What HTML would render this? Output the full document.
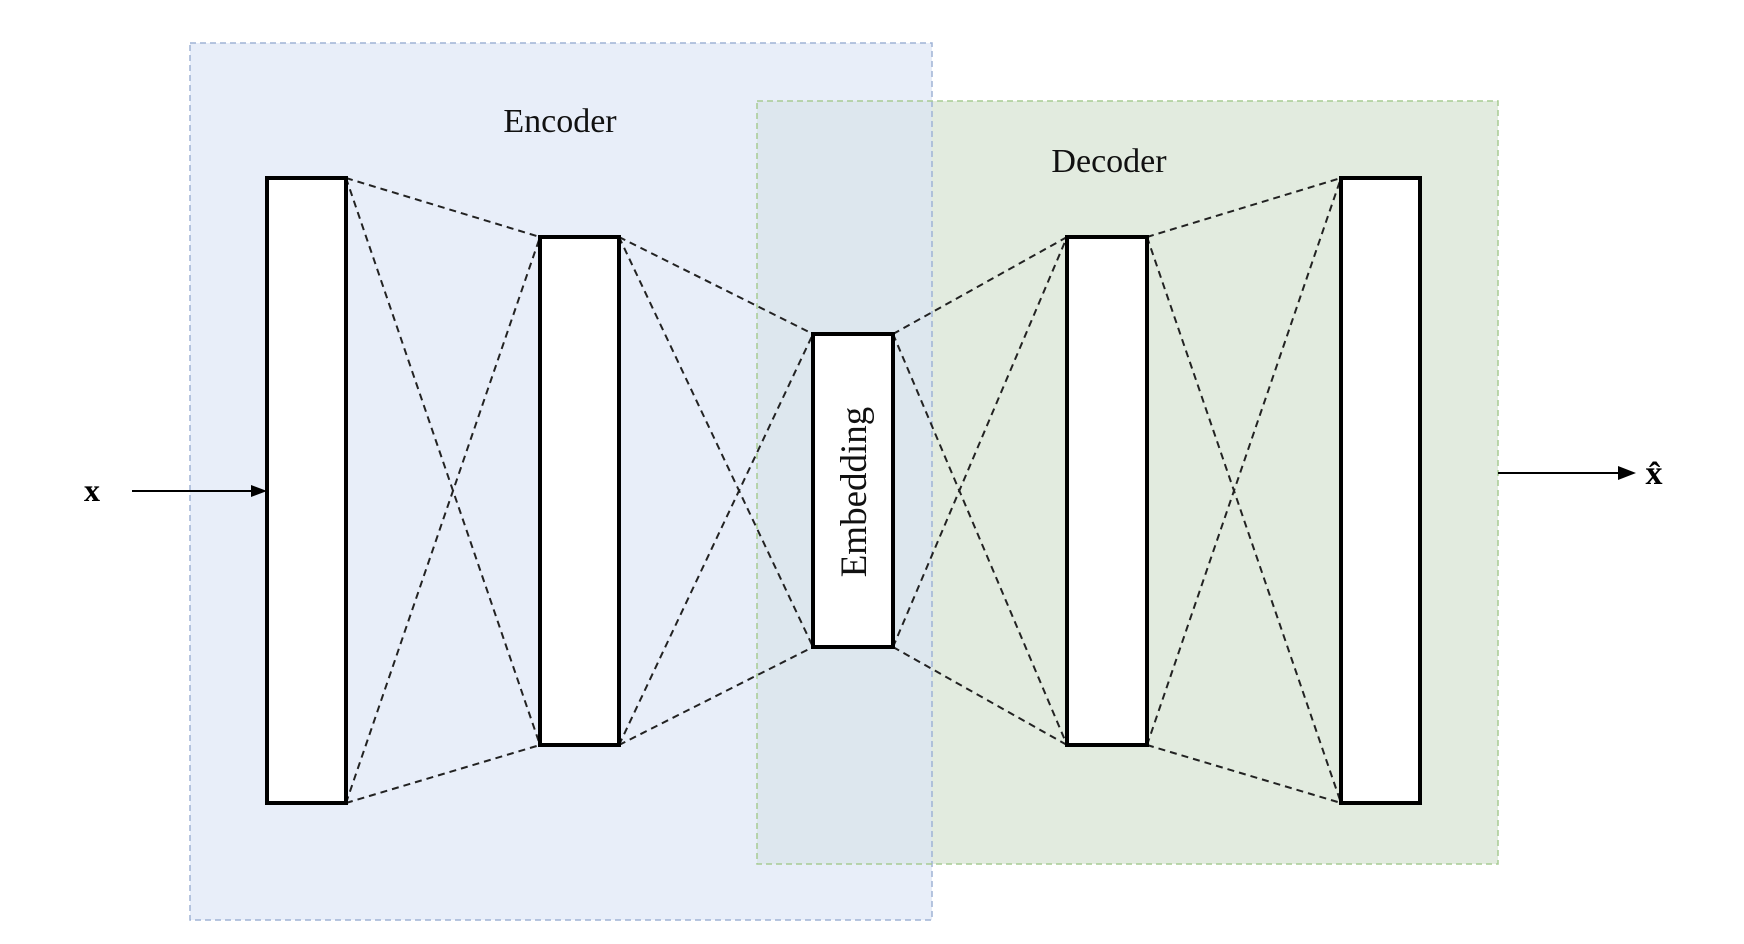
<!DOCTYPE html>
<html><head><meta charset="utf-8"><style>html,body{margin:0;padding:0;background:#fff}svg{display:block}</style></head>
<body>
<svg width="1744" height="944" viewBox="0 0 1744 944" xmlns="http://www.w3.org/2000/svg" font-family="Liberation Serif, serif">
<rect x="190" y="43" width="742" height="877" fill="#e8eef9"/>
<rect x="757" y="101" width="741" height="763" fill="#e2ebdf"/>
<rect x="757" y="101" width="175" height="763" fill="#dde7ee"/>
<rect x="190" y="43" width="742" height="877" fill="none" stroke="#9fb3d6" stroke-width="1.5" stroke-dasharray="6 4"/>
<rect x="757" y="101" width="741" height="763" fill="none" stroke="#a8cc94" stroke-width="1.5" stroke-dasharray="6 4"/>
<g stroke="#222" stroke-width="2" stroke-dasharray="7 5" fill="none">
<line x1="346" y1="178" x2="540" y2="237"/><line x1="346" y1="803" x2="540" y2="745"/>
<line x1="346" y1="178" x2="540" y2="745"/><line x1="346" y1="803" x2="540" y2="237"/>
<line x1="619" y1="237" x2="813" y2="334"/><line x1="619" y1="745" x2="813" y2="647"/>
<line x1="619" y1="237" x2="813" y2="647"/><line x1="619" y1="745" x2="813" y2="334"/>
<line x1="893" y1="334" x2="1067" y2="237"/><line x1="893" y1="647" x2="1067" y2="745"/>
<line x1="893" y1="334" x2="1067" y2="745"/><line x1="893" y1="647" x2="1067" y2="237"/>
<line x1="1147" y1="237" x2="1341" y2="178"/><line x1="1147" y1="745" x2="1341" y2="803"/>
<line x1="1147" y1="237" x2="1341" y2="803"/><line x1="1147" y1="745" x2="1341" y2="178"/>
</g>
<g fill="#fff" stroke="#000" stroke-width="4">
<rect x="267" y="178" width="79" height="625"/>
<rect x="540" y="237" width="79" height="508"/>
<rect x="813" y="334" width="80" height="313"/>
<rect x="1067" y="237" width="80" height="508"/>
<rect x="1341" y="178" width="79" height="625"/>
</g>
<text x="560" y="132" font-size="34" text-anchor="middle" fill="#111">Encoder</text>
<text x="1109" y="172" font-size="34" text-anchor="middle" fill="#111">Decoder</text>
<text transform="translate(866,492) rotate(-90)" font-size="37" text-anchor="middle" fill="#111">Embedding</text>
<line x1="132" y1="491" x2="255" y2="491" stroke="#000" stroke-width="2"/>
<polygon points="267,491 251,485 251,497" fill="#000"/>
<text x="92" y="501" font-size="32" font-weight="bold" text-anchor="middle">x</text>
<line x1="1498" y1="473" x2="1622" y2="473" stroke="#000" stroke-width="2"/>
<polygon points="1636,473 1618,466 1618,480" fill="#000"/>
<text x="1654" y="484" font-size="34" font-weight="bold" text-anchor="middle">x̂</text>
</svg>
</body></html>
